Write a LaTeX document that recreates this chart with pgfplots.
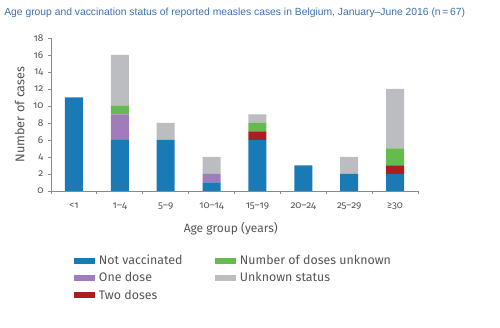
\documentclass[border=0pt]{standalone}
\usepackage{fontspec}
\setmainfont{Fira Sans}[Numbers=OldStyle]
\newfontfamily\titlefont{Liberation Sans}
\usepackage{pgfplots}
\pgfplotsset{compat=1.18}
\definecolor{nv}{HTML}{1A7AB5}
\definecolor{od}{HTML}{A07CBB}
\definecolor{td}{HTML}{AA1E23}
\definecolor{ndu}{HTML}{66BB4F}
\definecolor{us}{HTML}{BCBDC0}
\definecolor{titleblue}{HTML}{3A6FB0}
\definecolor{axisgray}{HTML}{8A8A8A}
\definecolor{labgray}{HTML}{555555}
\pgfplotsset{
  swatch/.style={legend image code/.code={\fill[##1, draw=none] (0pt,-2.3pt) rectangle (16pt,2.3pt);}}
}
\begin{document}
\begin{tikzpicture}[x=1pt,y=1pt]
\useasboundingbox (0,0) rectangle (375,246);
\node[anchor=north west, inner sep=0, font=\titlefont\fontsize{7.75}{9}\selectfont, text=titleblue] at (3,240) {Age group and vaccination status of reported measles cases in Belgium, January–June 2016 (n\,=\,67)};
\begin{axis}[
  at={(38.25pt,102.75pt)}, anchor=south west,
  scale only axis, width=275.25pt, height=114.75pt,
  ybar stacked, bar width=13.5pt,
  xmin=-0.5, xmax=7.5, ymin=0, ymax=18,
  axis lines*=left,
  axis line style={axisgray, line width=0.6pt},
  xtick={0,...,7},
  xticklabels={<1,1–4,5–9,10–14,15–19,20–24,25–29,≥30},
  minor xtick={-0.5,0.5,...,7.5},
  ytick={0,2,...,18},
  tick align=outside,
  major tick length=2.2pt, minor tick length=2.2pt,
  x tick style={draw=none},
  minor x tick style={draw=axisgray, line width=0.6pt},
  y tick style={draw=axisgray, line width=0.6pt},
  tick label style={font=\fontsize{7.5}{9}\selectfont, text=labgray},
  /pgf/number format/assume math mode=true,
  xticklabel style={yshift=-3pt},
  xlabel={Age group (years)},
  ylabel={Number of cases},
  xlabel style={font=\fontsize{9}{11}\selectfont, text=labgray, at={(axis description cs:0.49,-0.245)}, anchor=center},
  ylabel style={font=\fontsize{9.5}{11}\selectfont, text=labgray, at={(axis description cs:-0.085,0.5)}, anchor=center},
  legend columns=2,
  legend cell align=left,
  legend style={draw=none, fill=none, at={(axis description cs:0.05,-0.38)}, anchor=north west,
    font=\fontsize{9.3}{11}\selectfont, text=labgray,
    /tikz/every even column/.append style={column sep=22pt},
    /tikz/every odd column/.append style={column sep=1pt},
    row sep=0.5pt},
]
\addplot[fill=nv, draw=none, forget plot] coordinates {(0,11) (1,6) (2,6) (3,1) (4,6) (5,3) (6,2) (7,2)};
\addplot[fill=od, draw=none, forget plot] coordinates {(0,0) (1,3) (2,0) (3,1) (4,0) (5,0) (6,0) (7,0)};
\addplot[fill=td, draw=none, forget plot] coordinates {(0,0) (1,0) (2,0) (3,0) (4,1) (5,0) (6,0) (7,1)};
\addplot[fill=ndu, draw=none, forget plot] coordinates {(0,0) (1,1) (2,0) (3,0) (4,1) (5,0) (6,0) (7,2)};
\addplot[fill=us, draw=none, forget plot] coordinates {(0,0) (1,6) (2,2) (3,2) (4,1) (5,0) (6,2) (7,7)};
\addlegendimage{swatch, fill=nv}
\addlegendentry{Not vaccinated}
\addlegendimage{swatch, fill=ndu}
\addlegendentry{Number of doses unknown}
\addlegendimage{swatch, fill=od}
\addlegendentry{One dose}
\addlegendimage{swatch, fill=us}
\addlegendentry{Unknown status}
\addlegendimage{swatch, fill=td}
\addlegendentry{Two doses}
\end{axis}
\end{tikzpicture}
\end{document}
